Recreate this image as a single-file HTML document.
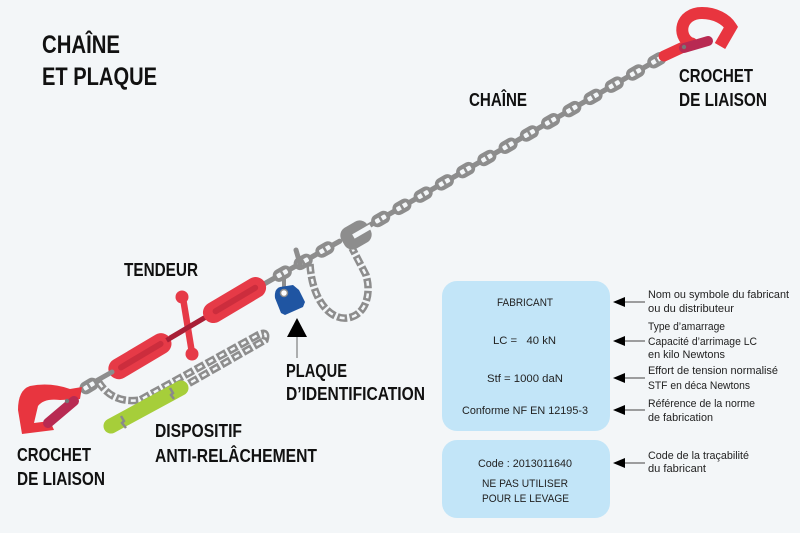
<!DOCTYPE html>
<html><head><meta charset="utf-8"><style>
html,body{margin:0;padding:0;background:#f3f6f8;}
svg{display:block;}
.lb{font-family:"Liberation Sans Narrow","Liberation Sans",sans-serif;font-weight:bold;fill:#111;}
.bx{font-family:"Liberation Sans",sans-serif;font-size:11px;fill:#222;}
.ds{font-family:"Liberation Sans",sans-serif;font-size:11px;fill:#222;}
</style></head><body>
<svg width="800" height="533" viewBox="0 0 800 533" xmlns="http://www.w3.org/2000/svg">
<defs>
<g id="fl"><rect x="-10" y="-6.5" width="20" height="13" rx="6.5" fill="#8d8d8d"/><rect x="-6" y="-2.3" width="12" height="4.6" rx="1.5" fill="#f3f6f8"/><rect x="-1.3" y="-2.6" width="2.6" height="5.2" fill="#8d8d8d"/></g>
<g id="el"><rect x="-7.5" y="-2.6" width="15" height="5.2" rx="2.6" fill="#8d8d8d"/></g>
</defs>
<rect width="800" height="533" fill="#f3f6f8"/>

<!-- Titles -->
<text class="lb" x="42" y="53" font-size="25" textLength="78" lengthAdjust="spacingAndGlyphs">CHAÎNE</text>
<text class="lb" x="42" y="85" font-size="25" textLength="115" lengthAdjust="spacingAndGlyphs">ET PLAQUE</text>

<!-- Main chain -->
<g transform="translate(372,224) rotate(-29.9)">
<use href="#el" x="-2"/>
<use href="#el" x="22.25"/><use href="#el" x="46.75"/><use href="#el" x="71.25"/><use href="#el" x="95.75"/>
<use href="#el" x="120.25"/><use href="#el" x="144.75"/><use href="#el" x="169.25"/><use href="#el" x="193.75"/>
<use href="#el" x="218.25"/><use href="#el" x="242.75"/><use href="#el" x="267.25"/><use href="#el" x="291.75"/>
<use href="#el" x="316.25"/><use href="#el" x="340"/>
<use href="#fl" x="10"/><use href="#fl" x="34.5"/><use href="#fl" x="59"/><use href="#fl" x="83.5"/>
<use href="#fl" x="108"/><use href="#fl" x="132.5"/><use href="#fl" x="157"/><use href="#fl" x="181.5"/>
<use href="#fl" x="206"/><use href="#fl" x="230.5"/><use href="#fl" x="255"/><use href="#fl" x="279.5"/>
<use href="#fl" x="304"/><use href="#fl" x="328.5"/>
</g>

<!-- Top right hook -->
<line x1="664" y1="56" x2="692" y2="43" stroke="#e8353f" stroke-width="11" stroke-linecap="round"/>
<path d="M690,43 C677,36 680,13 702,13 C715,13 726,19 731,27 L720,46" fill="none" stroke="#e8353f" stroke-width="12" stroke-linejoin="miter"/>
<line x1="684" y1="48" x2="708" y2="41" stroke="#b82a52" stroke-width="10" stroke-linecap="round"/>
<circle cx="684" cy="47" r="2.2" fill="#777"/>

<text class="lb" x="469" y="106" font-size="18.5" textLength="58" lengthAdjust="spacingAndGlyphs">CHAÎNE</text>
<text class="lb" x="679" y="82" font-size="18.5" textLength="74" lengthAdjust="spacingAndGlyphs">CROCHET</text>
<text class="lb" x="679" y="106" font-size="18.5" textLength="88" lengthAdjust="spacingAndGlyphs">DE LIAISON</text>

<!-- Hanging loop chain -->
<path d="M310,264 C312,300 330,320 347,318 C365,316 372,295 366,275 L352,248" fill="none" stroke="#8d8d8d" stroke-width="7.5" stroke-dasharray="10 2.5"/>
<path d="M310,264 C312,300 330,320 347,318 C365,316 372,295 366,275 L352,248" fill="none" stroke="#f3f6f8" stroke-width="2.5" stroke-dasharray="5 7.5" stroke-dashoffset="-2.5"/>

<!-- Shortener C -->
<g transform="translate(356,235) rotate(-30)">
<rect x="-15" y="-12" width="30" height="24" rx="9" fill="#8d8d8d"/>
<rect x="-3" y="-2.5" width="20" height="5" fill="#f3f6f8"/>
</g>

<!-- Lower chain segment -->
<g transform="translate(264,284) rotate(-29.5)">
<use href="#el" x="6"/><use href="#el" x="33"/><use href="#el" x="57"/><use href="#el" x="82"/>
<use href="#fl" x="21"/><use href="#fl" x="45"/><use href="#fl" x="70"/>
</g>
<line x1="296" y1="250" x2="301" y2="267" stroke="#8d8d8d" stroke-width="5" stroke-linecap="round"/>

<!-- Plate -->
<line x1="284" y1="276" x2="284" y2="292" stroke="#8d8d8d" stroke-width="4"/>
<path d="M280,287 L293,285 L299,290 L305,302 L303,307 L285,315 L281,313 L275,298 Q274,289 280,287 Z" fill="#1f55a2"/>
<circle cx="284" cy="293" r="3.5" fill="#fff" stroke="#8d8d8d" stroke-width="1.5"/>
<polygon points="297,318 287,337 307,337" fill="#000"/>
<line x1="297" y1="337" x2="297" y2="358" stroke="#666" stroke-width="1"/>
<text class="lb" x="286" y="377" font-size="18.5" textLength="61" lengthAdjust="spacingAndGlyphs">PLAQUE</text>
<text class="lb" x="286" y="400" font-size="18.5" textLength="139" lengthAdjust="spacingAndGlyphs">D’IDENTIFICATION</text>

<!-- Anti-slack chain -->
<path d="M98,381 Q112,404 140,400 L258,335 Q268,330 265,340 L188,384" fill="none" stroke="#8d8d8d" stroke-width="7.5" stroke-dasharray="10 2.5"/>
<path d="M98,381 Q112,404 140,400 L258,335 Q268,330 265,340 L188,384" fill="none" stroke="#f3f6f8" stroke-width="2.5" stroke-dasharray="5 7.5" stroke-dashoffset="-2.5"/>

<!-- Green bar -->
<line x1="111" y1="426" x2="181" y2="388" stroke="#a6ce3a" stroke-width="15" stroke-linecap="round"/>
<path d="M121,416 L124,421 L122,423 L126,428" fill="none" stroke="#8a8a8a" stroke-width="2.5"/>
<path d="M170,388 L173,393 L171,395 L174,399" fill="none" stroke="#8a8a8a" stroke-width="2.5"/>

<!-- Tensioner -->
<g transform="translate(115,371) rotate(-30.7)">
<rect x="-6" y="-10.5" width="70" height="21" rx="10.5" fill="#e63a47"/>
<rect x="4" y="-3" width="52" height="6" rx="3" fill="#cc2d3d"/>
<rect x="60" y="-2.5" width="48" height="5" fill="#a81f36"/>
<rect x="104" y="-10.5" width="70" height="21" rx="10.5" fill="#e63a47"/>
<rect x="114" y="-3" width="52" height="6" rx="3" fill="#cc2d3d"/>
</g>
<line x1="183" y1="298" x2="192" y2="353" stroke="#e63a47" stroke-width="6.5"/>
<circle cx="182" cy="297" r="6.5" fill="#e63a47"/>
<circle cx="192" cy="354" r="6.5" fill="#e63a47"/>
<line x1="170" y1="338" x2="204" y2="318" stroke="#a81f36" stroke-width="5"/>
<text class="lb" x="124" y="276" font-size="18.5" textLength="74" lengthAdjust="spacingAndGlyphs">TENDEUR</text>

<!-- Link near bottom hook -->
<line x1="96" y1="381" x2="112" y2="372" stroke="#8d8d8d" stroke-width="5" stroke-linecap="round"/>
<g transform="translate(89,386) rotate(-31)"><use href="#fl"/></g>

<!-- Bottom-left hook -->
<path d="M30,386 Q50,382 70,389 L82,387 L80,399 L60,400 Q44,398 38,406 L34,423 L50,421 L54,430 L22,434 L18,410 Q18,390 30,386 Z" fill="#e8353f"/>
<line x1="48" y1="423" x2="74" y2="401" stroke="#b82a52" stroke-width="10" stroke-linecap="round"/>
<circle cx="67" cy="401" r="2.2" fill="#777"/>

<text class="lb" x="155" y="437" font-size="18.5" textLength="87" lengthAdjust="spacingAndGlyphs">DISPOSITIF</text>
<text class="lb" x="155" y="462" font-size="18.5" textLength="162" lengthAdjust="spacingAndGlyphs">ANTI-RELÂCHEMENT</text>
<text class="lb" x="17" y="461" font-size="18.5" textLength="74" lengthAdjust="spacingAndGlyphs">CROCHET</text>
<text class="lb" x="17" y="485" font-size="18.5" textLength="88" lengthAdjust="spacingAndGlyphs">DE LIAISON</text>

<!-- Boxes -->
<rect x="442" y="281" width="168" height="150" rx="15" fill="#c2e5f8"/>
<rect x="442" y="440" width="168" height="78" rx="15" fill="#c2e5f8"/>
<text class="bx" x="497" y="306" textLength="56" lengthAdjust="spacingAndGlyphs">FABRICANT</text>
<text class="bx" x="493" y="344" textLength="63" lengthAdjust="spacingAndGlyphs" xml:space="preserve">LC =   40 kN</text>
<text class="bx" x="487" y="382" textLength="76" lengthAdjust="spacingAndGlyphs">Stf = 1000 daN</text>
<text class="bx" x="462" y="414" textLength="126" lengthAdjust="spacingAndGlyphs">Conforme NF EN 12195-3</text>
<text class="bx" x="478" y="467" textLength="94" lengthAdjust="spacingAndGlyphs">Code : 2013011640</text>
<text class="bx" x="482" y="487" textLength="86" lengthAdjust="spacingAndGlyphs">NE PAS UTILISER</text>
<text class="bx" x="482" y="502" textLength="87" lengthAdjust="spacingAndGlyphs">POUR LE LEVAGE</text>

<!-- Arrows -->
<g fill="#000" stroke="#444" stroke-width="1">
<polygon points="613,302 625,297 625,307" stroke="none"/><line x1="625" y1="302" x2="645" y2="302"/>
<polygon points="613,341 625,336 625,346" stroke="none"/><line x1="625" y1="341" x2="645" y2="341"/>
<polygon points="613,378 625,373 625,383" stroke="none"/><line x1="625" y1="378" x2="645" y2="378"/>
<polygon points="613,410 625,405 625,415" stroke="none"/><line x1="625" y1="410" x2="645" y2="410"/>
<polygon points="613,463 625,458 625,468" stroke="none"/><line x1="625" y1="463" x2="645" y2="463"/>
</g>

<!-- Descriptions -->
<text class="ds" x="648" y="298" textLength="141" lengthAdjust="spacingAndGlyphs">Nom ou symbole du fabricant</text>
<text class="ds" x="648" y="312" textLength="86" lengthAdjust="spacingAndGlyphs">ou du distributeur</text>
<text class="ds" x="648" y="330" textLength="77" lengthAdjust="spacingAndGlyphs">Type d’amarrage</text>
<text class="ds" x="648" y="345" textLength="109" lengthAdjust="spacingAndGlyphs">Capacité d’arrimage LC</text>
<text class="ds" x="648" y="358" textLength="77" lengthAdjust="spacingAndGlyphs">en kilo Newtons</text>
<text class="ds" x="648" y="374" textLength="130" lengthAdjust="spacingAndGlyphs">Effort de tension normalisé</text>
<text class="ds" x="648" y="389" textLength="102" lengthAdjust="spacingAndGlyphs">STF en déca Newtons</text>
<text class="ds" x="648" y="407" textLength="107" lengthAdjust="spacingAndGlyphs">Référence de la norme</text>
<text class="ds" x="648" y="421" textLength="65" lengthAdjust="spacingAndGlyphs">de fabrication</text>
<text class="ds" x="648" y="459" textLength="101" lengthAdjust="spacingAndGlyphs">Code de la traçabilité</text>
<text class="ds" x="648" y="472" textLength="58" lengthAdjust="spacingAndGlyphs">du fabricant</text>
</svg>
</body></html>
